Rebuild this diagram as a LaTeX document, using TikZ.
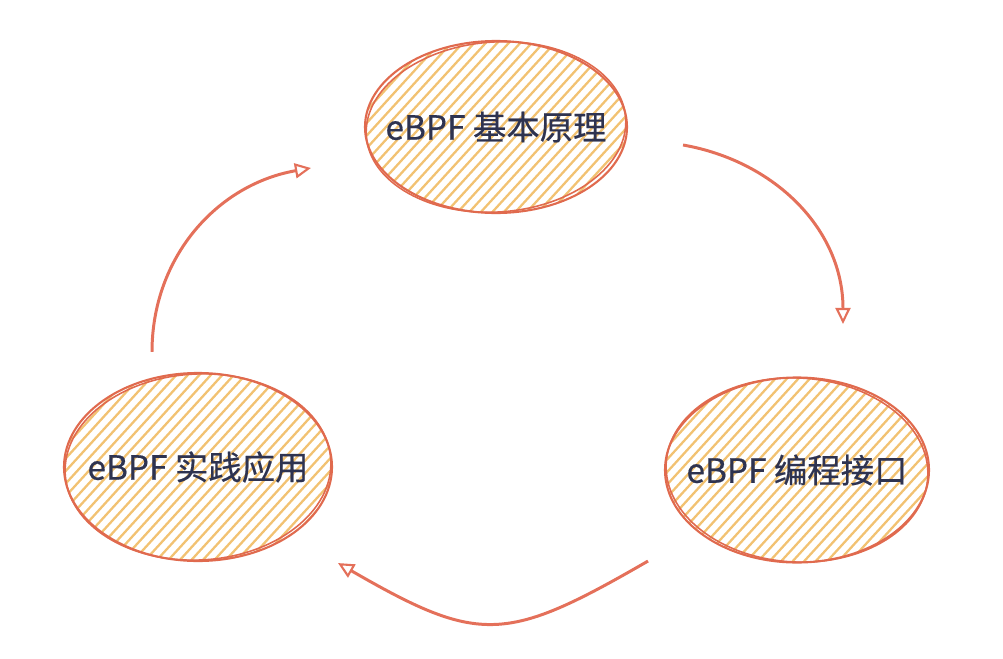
\documentclass[tikz,border=0pt]{standalone}
\usepackage{fontspec}
\setmainfont{Noto Sans CJK SC}
\newfontfamily\topicfont[FakeBold=0.5]{Noto Sans CJK SC}
\usetikzlibrary{arrows.meta}
\usetikzlibrary{shapes.geometric}
\usetikzlibrary{positioning}
\definecolor{mrim}{HTML}{E06A4E}
\definecolor{mhatch}{HTML}{F2C272}
\definecolor{mink}{HTML}{2E3350}
\definecolor{marrow}{HTML}{E4705A}
\tikzset{topic/.style = {ellipse, draw=mrim, line width=1.2pt, inner sep=0pt,
                         path picture={
                           \foreach \k in {-16,...,24}
                             \draw [mhatch, line width=1.3pt]
                               ([xshift=\k*0.23cm]path picture bounding box.south west) -- ++(4.2,4.6);
                         },
                         label={[text=mink, font=\topicfont\fontsize{19}{22}\selectfont]center:#1}}}
\tikzset{rim/.style = {draw=mrim, line width=0.9pt}}
\tikzset{flow/.style = {marrow, line width=1.7pt,
                        -{Triangle[open, length=3.2mm, width=3mm, line width=1.2pt]}}}

\begin{document}
\begin{tikzpicture}
      \useasboundingbox (0, 0) rectangle (20.06, -13.16);

      \node [topic={eBPF 基本原理}, minimum width=5.24cm, minimum height=3.44cm] (basics) at (9.92, -2.54) {};
      \node [topic={eBPF 编程接口}, minimum width=5.28cm, minimum height=3.70cm] (api) at (15.94, -9.40) {};
      \node [topic={eBPF 实践应用}, minimum width=5.36cm, minimum height=3.76cm] (practice) at (3.96, -9.34) {};

      % second pencil stroke round each topic
      \draw [rim, rotate around={4:(basics.center)}] (basics.center) ellipse (2.60 and 1.70);
      \draw [rim, rotate around={-3:(api.center)}] (api.center) ellipse (2.62 and 1.84);
      \draw [rim, rotate around={3:(practice.center)}] (practice.center) ellipse (2.66 and 1.86);

      \coordinate (b-out) at ([shift={(1.10, -0.36)}]basics.east);
      \coordinate (a-in) at ([shift={(0.92, 1.05)}]api.north);
      \coordinate (a-out) at ([shift={(-2.98, 0.05)}]api.south);
      \coordinate (p-in) at ([shift={(2.80, -0.02)}]practice.south);
      \coordinate (p-out) at ([shift={(-0.92, 0.40)}]practice.north);
      \coordinate (b-in) at ([shift={(-1.06, -0.82)}]basics.west);

      \draw [flow] (b-out) to [out=-10, in=90] (a-in);
      \draw [flow] (a-out) to [out=-150, in=-30, looseness=1.35] (p-in);
      \draw [flow] (p-out) to [out=90, in=190] (b-in);
    \end{tikzpicture}
\end{document}
